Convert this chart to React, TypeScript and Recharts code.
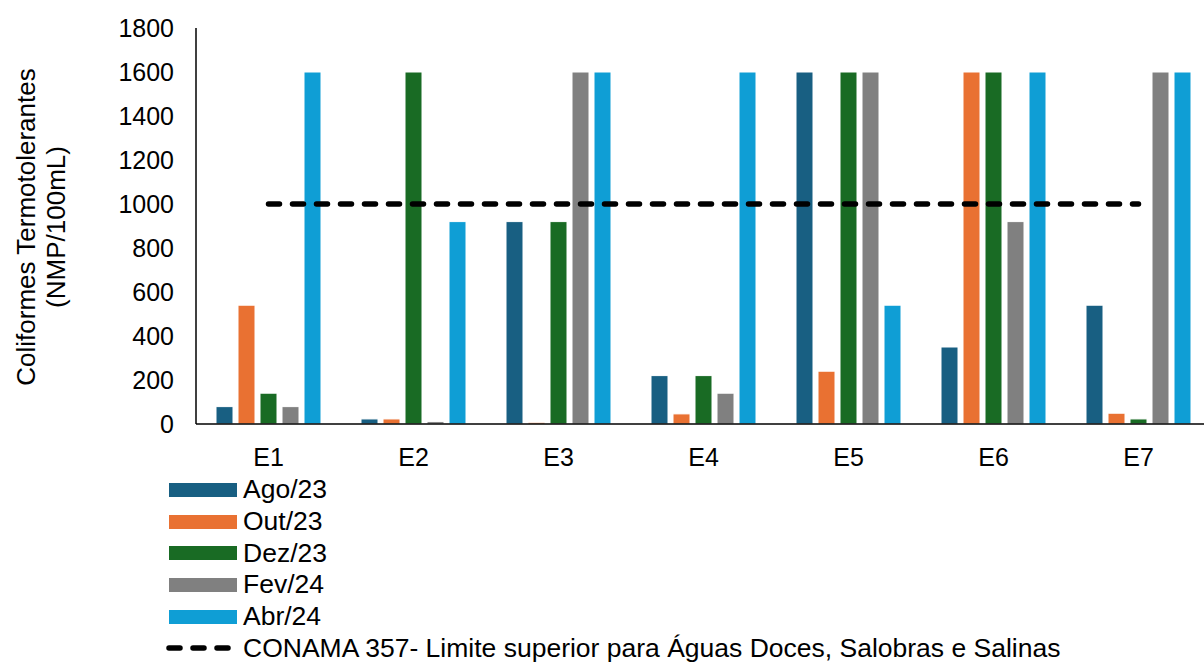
import React from 'react';
import { ComposedChart, Bar, Line, XAxis, YAxis, Legend } from 'recharts';

const categories = ['E1', 'E2', 'E3', 'E4', 'E5', 'E6', 'E7'];
const ago23 = [79, 23, 920, 220, 1600, 350, 540];
const out23 = [540, 23, 7.8, 46, 240, 1600, 49];
const dez23 = [140, 1600, 920, 220, 1600, 1600, 23];
const fev24 = [79, 11, 1600, 140, 1600, 920, 1600];
const abr24 = [1600, 920, 1600, 1600, 540, 1600, 1600];
const limiteConama = [1000, 1000, 1000, 1000, 1000, 1000, 1000];
const yTicks = [0, 200, 400, 600, 800, 1000, 1200, 1400, 1600, 1800];

const series = [
  { key: 'ago', name: 'Ago/23', color: '#185f82' },
  { key: 'out', name: 'Out/23', color: '#e97132' },
  { key: 'dez', name: 'Dez/23', color: '#196b24' },
  { key: 'fev', name: 'Fev/24', color: '#808080' },
  { key: 'abr', name: 'Abr/24', color: '#0f9ed5' },
];
const limiteName = 'CONAMA 357- Limite superior para Águas Doces, Salobras e Salinas';

const data = categories.map((c, i) => ({
  name: c,
  ago: ago23[i],
  out: out23[i],
  dez: dez23[i],
  fev: fev24[i],
  abr: abr24[i],
  limite: limiteConama[i],
}));

const font = '"Liberation Sans", Arial, sans-serif';

// legend drawn by hand: wide colour blocks, one entry per row
const LegendBox = () => (
  <div style={{ height: 192, paddingLeft: 169, fontFamily: font, fontSize: 26.5, color: '#000' }}>
    {series.map((s) => (
      <div key={s.key} style={{ height: 31.7, display: 'flex', alignItems: 'center' }}>
        <div style={{ width: 68, height: 14, background: s.color, marginRight: 6 }} />
        <span style={{ lineHeight: '31px', whiteSpace: 'nowrap' }}>{s.name}</span>
      </div>
    ))}
    <div style={{ height: 31.7, display: 'flex', alignItems: 'center', marginLeft: -3 }}>
      <svg width={71} height={14} style={{ marginRight: 6 }}>
        <line x1={3} y1={7} x2={62} y2={7} stroke="#000" strokeWidth={5.5} strokeDasharray="11 13" strokeLinecap="round" />
      </svg>
      <span style={{ lineHeight: '31px', whiteSpace: 'nowrap' }}>{limiteName}</span>
    </div>
  </div>
);

const YLabel = () => (
  <g>
    <text x={35} y={227} transform="rotate(-90 35 227)" textAnchor="middle" fontSize={26} fontFamily={font} fill="#000">
      Coliformes Termotolerantes
    </text>
    <text x={65} y={227} transform="rotate(-90 65 227)" textAnchor="middle" fontSize={26} fontFamily={font} fill="#000">
      (NMP/100mL)
    </text>
  </g>
);

export default function App() {
  return (
    <div style={{ position: 'absolute', left: 0, top: 0, width: 1204, height: 664, overflow: 'hidden', background: '#fff', fontFamily: font }}>
      <ComposedChart
        width={1230}
        height={670}
        data={data}
        margin={{ top: 28, right: 19, bottom: 4, left: 0 }}
        barCategoryGap={20}
        barGap={5}
      >
        <XAxis
          dataKey="name"
          height={50}
          tickLine={false}
          tickSize={0}
          tickMargin={24}
          axisLine={{ stroke: '#000', strokeWidth: 1.5 }}
          tick={{ fill: '#000', fontSize: 25, fontFamily: font }}
        />
        <YAxis
          width={196}
          domain={[0, 1800]}
          ticks={yTicks}
          interval={0}
          tickLine={false}
          tickSize={0}
          tickMargin={22}
          axisLine={{ stroke: '#000', strokeWidth: 1.5 }}
          tick={{ fill: '#000', fontSize: 25, fontFamily: font }}
          label={{ content: () => <YLabel /> }}
        />
        <Legend layout="horizontal" verticalAlign="bottom" align="left" content={() => <LegendBox />} />
        {series.map((s) => (
          <Bar
            key={s.key}
            dataKey={s.key}
            name={s.name}
            fill={s.color}
            stroke="#ffffff"
            strokeWidth={1}
            isAnimationActive={false}
          />
        ))}
        <Line
          type="linear"
          dataKey="limite"
          name={limiteName}
          stroke="#000"
          strokeWidth={5.5}
          strokeDasharray="11 13"
          strokeLinecap="round"
          dot={false}
          activeDot={false}
          isAnimationActive={false}
        />
      </ComposedChart>
    </div>
  );
}
